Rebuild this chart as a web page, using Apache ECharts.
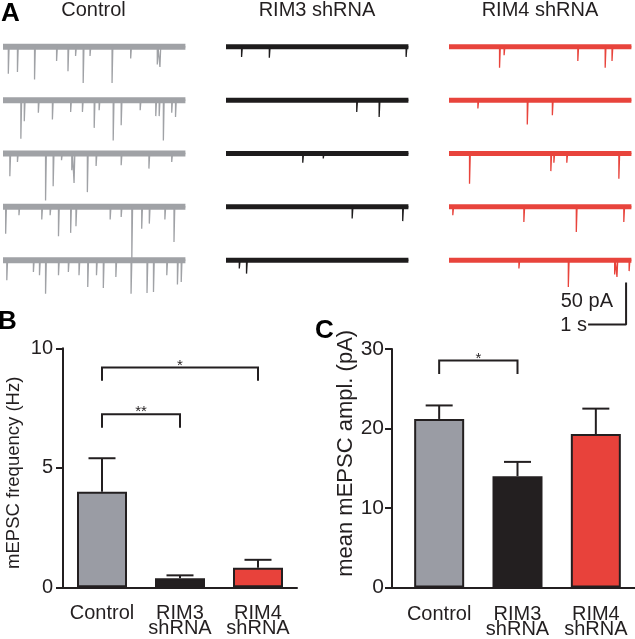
<!DOCTYPE html>
<html><head><meta charset="utf-8">
<script src="https://cdn.jsdelivr.net/npm/echarts@6/dist/echarts.min.js"></script>
<style>html,body{margin:0;padding:0;background:#fff}#c{width:635px;height:639px}</style>
</head><body><div id="c"></div><script>
// ---------- data ----------
const groups = ['Control', 'RIM3\nshRNA', 'RIM4\nshRNA'];
const traceTitles = ['Control', 'RIM3 shRNA', 'RIM4 shRNA'];
const freqMean = [4.0, 0.38, 0.82];
const freqSem = [1.4, 0.12, 0.33];
const amplMean = [21.2, 14.0, 19.3];
const amplSem = [1.7, 1.8, 3.2];
const freqSigPairs = [[0, 2], [0, 1]];
const freqSigLevels = [9.2, 7.24];
const freqSigLabels = ['*', '**'];
const amplSigPairs = [[0, 1]];
const amplSigLevels = [28.55];
const amplSigLabels = ['*'];
// mEPSC events per sweep: [time (s), amplitude (pA)]
const controlEvents = [
  [[0.14,32],[0.38,30],[0.83,39],[1.41,17],[1.71,29],[1.91,11],[2.11,43],[2.29,11],[2.87,43],[3.36,14],[4.06,21],[4.13,24]],
  [[0.47,46],[0.56,25],[0.93,15],[1.30,23],[1.78,14],[2.09,14],[2.40,33],[2.53,12],[2.90,48],[3.11,30],[3.61,12],[4.02,19],[4.11,19],[4.22,48],[4.44,15],[4.54,20]],
  [[0.18,27],[0.38,10],[1.12,56],[1.32,39],[1.54,8],[1.81,20],[1.87,35],[2.22,46],[2.45,15],[3.11,14],[3.84,18],[4.44,10]],
  [[0.07,32],[0.42,10],[1.02,15],[1.24,10],[1.46,35],[1.78,31],[1.92,23],[2.82,15],[3.11,12],[3.39,62],[3.65,26],[3.85,20],[4.26,15],[4.50,42]],
  [[0.10,24],[0.80,14],[0.96,18],[1.12,40],[1.46,18],[1.72,14],[2.00,18],[2.23,32],[2.46,18],[2.64,33],[2.97,20],[3.37,40],[3.79,39],[3.96,38],[4.31,18],[4.59,29],[4.69,26]]
];
const rim3Events = [
  [[0.41,12],[1.14,13],[4.74,12]],
  [[3.44,14],[4.03,20]],
  [[2.02,11],[2.56,6]],
  [[3.32,14],[4.65,17]],
  [[0.35,10],[0.54,16]]
];
const rim4Events = [
  [[1.33,25],[1.45,10],[3.39,17],[4.11,25],[4.29,17]],
  [[0.76,10],[2.06,29],[2.72,18]],
  [[0.54,36],[2.68,21],[2.76,11],[3.10,11],[4.47,30]],
  [[0.10,10],[1.97,18],[3.35,30],[4.60,18]],
  [[1.84,10],[3.14,32],[4.36,17],[4.42,20],[4.74,13]]
];
const scaleBarPA = 50;
const scaleBarS = 1;

// ---------- styles / layout ----------
const FONT = '"Liberation Sans", Arial, sans-serif';
const INK = '#231f20';
const traceColors = ['#a0a2a6', '#1e1c1d', '#e8443c'];
const barColors = ['#9a9ca4', '#231f20', '#e8423b'];
const sweepDur = 4.8, sweepGap = 63.5, sweepTop = 20;
const traceLefts = [3, 226, 449];
const allEvents = [controlEvents, rim3Events, rim4Events];

const grid = [], xAxis = [], yAxis = [], series = [];
traceLefts.forEach((l, c) => {
  grid.push({left: l, top: 30, width: 182.4, height: 299.88});
  xAxis.push({type: 'value', gridIndex: c, min: 0, max: sweepDur, show: false});
  yAxis.push({type: 'value', gridIndex: c, min: -357, max: 0, show: false});
  allEvents[c].forEach((ev, i) => {
    const off = -(sweepTop + sweepGap * i);
    series.push({type: 'line', xAxisIndex: c, yAxisIndex: c, silent: true, showSymbol: false,
      data: [[0, off], [sweepDur, off]], lineStyle: {color: traceColors[c], width: c === 0 ? 6 : 5}, z: 2});
    const pts = [[0, off]];
    ev.forEach(([t, a]) => { pts.push([t, off], [t, off - a], [t + 0.02, off]); });
    pts.push([sweepDur, off]);
    series.push({type: 'line', xAxisIndex: c, yAxisIndex: c, silent: true, showSymbol: false,
      data: pts, lineStyle: {color: traceColors[c], width: 1.3}, z: 3});
  });
});
// scale bar in RIM4 sweep coordinates
const sbT = 4.66, sbY = -350.6;
series.push({type: 'line', xAxisIndex: 2, yAxisIndex: 2, silent: true, showSymbol: false,
  data: [[sbT - scaleBarS, sbY], [sbT, sbY], [sbT, sbY + scaleBarPA]],
  lineStyle: {color: INK, width: 2}, z: 4});

// panel B grid 3
grid.push({left: 63, top: 348.3, width: 234, height: 239});
xAxis.push({type: 'category', gridIndex: 3, data: groups,
  axisLine: {lineStyle: {color: INK, width: 2}}, axisTick: {show: false},
  axisLabel: {color: INK, fontSize: 20, fontFamily: FONT, lineHeight: 15, margin: 19, interval: 0}});
yAxis.push({type: 'value', gridIndex: 3, min: 0, max: 10, interval: 5,
  name: 'mEPSC frequency (Hz)', nameLocation: 'middle', nameGap: 40,
  nameTextStyle: {color: INK, fontSize: 18.5, fontFamily: FONT, padding: [0, 10, 0, 0]},
  axisLine: {show: true, lineStyle: {color: INK, width: 2}},
  axisTick: {show: true, length: 7, lineStyle: {color: INK, width: 2}},
  axisLabel: {color: INK, fontSize: 20, fontFamily: FONT, margin: 10},
  splitLine: {show: false}});
// panel C axes grid 4
grid.push({left: 392, top: 349, width: 243, height: 238.7});
xAxis.push({type: 'value', gridIndex: 4, min: 0, max: 1,
  axisLine: {show: true, lineStyle: {color: INK, width: 2}}, axisTick: {show: false},
  axisLabel: {show: false}, splitLine: {show: false}});
yAxis.push({type: 'value', gridIndex: 4, min: 0, max: 30, interval: 10,
  name: 'mean mEPSC ampl. (pA)', nameLocation: 'middle', nameGap: 33,
  nameTextStyle: {color: INK, fontSize: 22, fontFamily: FONT, padding: [0, 0, 0, 30]},
  axisLine: {show: true, lineStyle: {color: INK, width: 2}},
  axisTick: {show: true, length: 7, lineStyle: {color: INK, width: 2}},
  axisLabel: {color: INK, fontSize: 21, fontFamily: FONT, margin: 8},
  splitLine: {show: false}});
// panel C bars grid 5
grid.push({left: 400, top: 349, width: 236, height: 238.7});
xAxis.push({type: 'category', gridIndex: 5, data: groups,
  axisLine: {show: false}, axisTick: {show: false},
  axisLabel: {color: INK, fontSize: 20, fontFamily: FONT, lineHeight: 15, margin: 19, interval: 0}});
yAxis.push({type: 'value', gridIndex: 5, min: 0, max: 30, show: false});

function errRender(params, api) {
  const i = api.value(0), m = api.value(1), s = api.value(2);
  const p0 = api.coord([i, m]), p1 = api.coord([i, m + s]);
  const h = 13.5;
  return {type: 'group', children: [
    {type: 'line', shape: {x1: p0[0], y1: p0[1], x2: p1[0], y2: p1[1]}, style: {stroke: INK, lineWidth: 2}},
    {type: 'line', shape: {x1: p1[0] - h, y1: p1[1], x2: p1[0] + h, y2: p1[1]}, style: {stroke: INK, lineWidth: 2}}
  ]};
}
function sigRender(labels) {
  return function (params, api) {
    const a = api.value(0), b = api.value(1), lv = api.value(2);
    const p1 = api.coord([a, lv]), p2 = api.coord([b, lv]);
    const d = 13.4;
    return {type: 'group', children: [
      {type: 'polyline', shape: {points: [[p1[0], p1[1] + d], [p1[0], p1[1]], [p2[0], p2[1]], [p2[0], p2[1] + d]]},
        style: {stroke: INK, lineWidth: 2, fill: null}},
      {type: 'text', x: (p1[0] + p2[0]) / 2, y: p1[1] - 2,
        style: {text: labels[params.dataIndex], fill: INK, font: '15px ' + FONT, align: 'center', verticalAlign: 'middle'}}
    ]};
  };
}
function addBarPanel(xi, means, sems, pairs, levels, labels) {
  series.push({type: 'bar', xAxisIndex: xi, yAxisIndex: xi, barWidth: 50, silent: true,
    data: means.map((v, i) => ({value: v, itemStyle: {color: barColors[i]}})),
    itemStyle: {borderColor: INK, borderWidth: 2}, z: 2});
  series.push({type: 'custom', xAxisIndex: xi, yAxisIndex: xi, silent: true, z: 1,
    renderItem: errRender, data: means.map((v, i) => [i, v, sems[i]])});
  series.push({type: 'custom', xAxisIndex: xi, yAxisIndex: xi, silent: true, z: 3,
    renderItem: sigRender(labels), data: pairs.map((p, i) => [p[0], p[1], levels[i]])});
}
addBarPanel(3, freqMean, freqSem, freqSigPairs, freqSigLevels, freqSigLabels);
addBarPanel(5, amplMean, amplSem, amplSigPairs, amplSigLevels, amplSigLabels);

const titleCenters = [93.5, 317, 540];
const graphic = [
  {type: 'text', x: 1, y: 1, style: {text: 'A', font: 'bold 26px ' + FONT, fill: '#000', verticalAlign: 'top'}},
  {type: 'text', x: -2, y: 309, style: {text: 'B', font: 'bold 26px ' + FONT, fill: '#000', verticalAlign: 'top'}},
  {type: 'text', x: 315, y: 318, style: {text: 'C', font: 'bold 26px ' + FONT, fill: '#000', verticalAlign: 'top'}},
  {type: 'text', x: 613, y: 301, style: {text: scaleBarPA + ' pA', font: '20px ' + FONT, fill: INK, align: 'right', verticalAlign: 'middle'}},
  {type: 'text', x: 587, y: 325, style: {text: scaleBarS + ' s', font: '20px ' + FONT, fill: INK, align: 'right', verticalAlign: 'middle'}}
];
traceTitles.forEach((t, i) => graphic.push({type: 'text', x: titleCenters[i], y: 10,
  style: {text: t, font: '20px ' + FONT, fill: INK, align: 'center', verticalAlign: 'middle'}}));

const chart = echarts.init(document.getElementById('c'), null, {renderer: 'canvas'});
chart.setOption({animation: false, backgroundColor: '#fff', grid, xAxis, yAxis, series, graphic});
</script></body></html>
